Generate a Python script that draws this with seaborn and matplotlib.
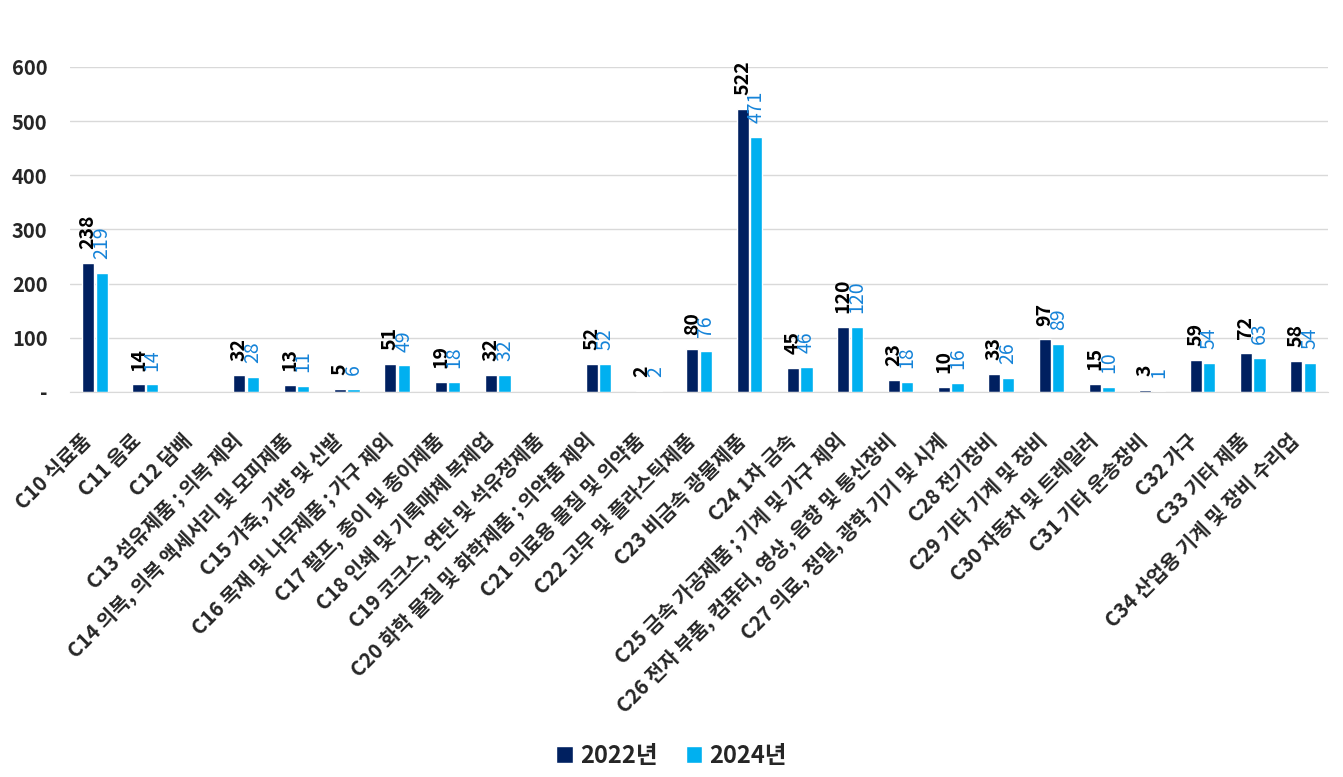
import seaborn as sns
import pandas as pd
import numpy as np
import matplotlib.pyplot as plt

# categories and values (C12, C19 have no data)
categories = ['C10 식료품', 'C11 음료', 'C12 담배', 'C13 섬유제품 ; 의복 제외',
              'C14 의복, 의복 액세서리 및 모피제품', 'C15 가죽, 가방 및 신발',
              'C16 목재 및 나무제품 ; 가구 제외', 'C17 펄프, 종이 및 종이제품',
              'C18 인쇄 및 기록매체 복제업', 'C19 코크스, 연탄 및 석유정제품',
              'C20 화학 물질 및 화학제품 ; 의약품 제외', 'C21 의료용 물질 및 의약품',
              'C22 고무 및 플라스틱제품', 'C23 비금속 광물제품', 'C24 1차 금속',
              'C25 금속 가공제품 ; 기계 및 가구 제외',
              'C26 전자 부품, 컴퓨터, 영상, 음향 및 통신장비',
              'C27 의료, 정밀, 광학 기기 및 시계', 'C28 전기장비', 'C29 기타 기계 및 장비',
              'C30 자동차 및 트레일러', 'C31 기타 운송장비', 'C32 가구', 'C33 기타 제품',
              'C34 산업용 기계 및 장비 수리업']
values_2022 = [238, 14, np.nan, 32, 13, 5, 51, 19, 32, np.nan, 52, 2, 80, 522, 45,
               120, 23, 10, 33, 97, 15, 3, 59, 72, 58]
values_2024 = [219, 14, np.nan, 28, 11, 6, 49, 18, 32, np.nan, 52, 2, 76, 471, 46,
               120, 18, 16, 26, 89, 10, 1, 54, 63, 54]
years = ['2022년', '2024년']

df = pd.DataFrame({
    'cat': categories * 2,
    'year': [years[0]] * len(categories) + [years[1]] * len(categories),
    'value': values_2022 + values_2024,
})

sns.set_style('white')
plt.rcParams['font.family'] = ['Noto Sans CJK KR', 'DejaVu Sans']

fig = plt.figure(figsize=(13.43, 7.77), dpi=100)
ax = fig.add_axes([0.052, 0.4955, 0.937, 0.4183])

sns.barplot(data=df, x='cat', y='value', hue='year', order=categories,
            hue_order=years, palette=['#002060', '#00B0F0'], saturation=1,
            width=0.54, gap=0.11, errorbar=None, ax=ax)

# data labels
label_style = [dict(color='black', fontweight='bold'),
               dict(color='#1583D8', fontweight='normal')]
for cont, st in zip(ax.containers, label_style):
    labels = ['' if np.isnan(v) else f'{v:.0f}' for v in cont.datavalues]
    ax.bar_label(cont, labels=labels, rotation=90, padding=10, fontsize=14, **st)

ax.set_ylim(0, 600)
ax.set_xlim(-0.5, len(categories) - 0.5)
ax.set_yticks([0, 100, 200, 300, 400, 500, 600])
ax.set_yticklabels(['-', '100', '200', '300', '400', '500', '600'],
                   fontsize=14.5, fontweight='bold')
ax.tick_params(axis='y', length=0, pad=16)
ax.tick_params(axis='x', length=0, pad=38)
ax.yaxis.grid(True, color='#d9d9d9', lw=1)
ax.set_axisbelow(True)
ax.set_xticks(range(len(categories)))
ax.set_xticklabels(categories, rotation=45, ha='right', va='bottom',
                   rotation_mode='anchor', fontsize=14.5, fontweight='bold')
sns.despine(ax=ax, left=True)
ax.spines['bottom'].set_color('#d9d9d9')
ax.set_xlabel('')
ax.set_ylabel('')

handles, labs = ax.get_legend_handles_labels()
ax.get_legend().remove()
fig.legend(handles, labs, loc='center', bbox_to_anchor=(0.5, 0.027), ncol=2,
           frameon=False, handlelength=0.7, handleheight=0.7, handletextpad=0.3,
           columnspacing=1.2, prop={'size': 17, 'weight': 'bold'})

fig.savefig('out.png', dpi=100)
